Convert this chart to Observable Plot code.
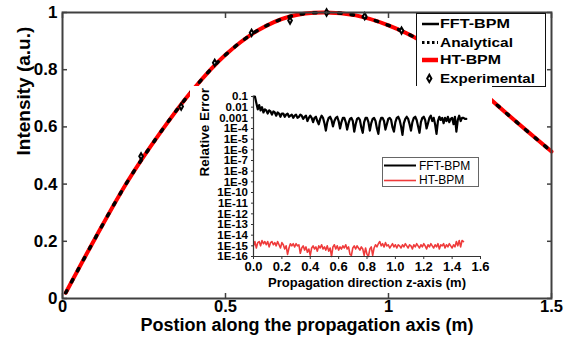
<!DOCTYPE html>
<html><head><meta charset="utf-8">
<script src="https://cdn.jsdelivr.net/npm/d3@7"></script>
<script src="https://cdn.jsdelivr.net/npm/@observablehq/plot@0.6"></script>
<style>
body{margin:0;background:#fff;}
#wrap{position:relative;width:564px;height:343px;overflow:hidden;font-family:"Liberation Sans",Arial,sans-serif;}
#main{position:absolute;left:0;top:0;}
#legend{position:absolute;left:416px;top:13px;width:130px;height:74px;}
#inset{position:absolute;left:190px;top:86px;width:302px;height:205px;background:#fff;}
#insetLegend{position:absolute;left:192px;top:71px;width:97px;height:30px;background:#fff;border:1px solid #666;box-sizing:border-box;}
#insetLegend .row{position:absolute;left:0;height:15px;display:flex;align-items:center;font-size:12px;color:#000;white-space:nowrap;}
</style>
</head><body>
<div id="wrap">
  <div id="main"></div>
  <div id="legend"></div>
  <div id="inset"><div id="insetPlot"></div><div id="insetLegend"></div></div>
</div>
<script>
// ---------- main chart data ----------
const posX      = [0.01, 0.1, 0.2, 0.3, 0.4, 0.5, 0.6, 0.7, 0.8, 0.9, 1.0, 1.1, 1.2, 1.3, 1.4, 1.5];
const intensity = [0.02, 0.21, 0.41, 0.58, 0.73, 0.852, 0.938, 0.987, 1.0, 0.99, 0.955, 0.9, 0.815, 0.71, 0.61, 0.514];
const expX = [0.241, 0.364, 0.467, 0.58, 0.698, 0.81, 0.927, 1.04];
const expY = [0.497, 0.671, 0.824, 0.929, 0.972, 1.0, 0.987, 0.937];
const xTicks = [0, 0.5, 1, 1.5];
const xTickLabels = ["0", "0.5", "1", "1.5"];
const yTicks = [0, 0.2, 0.4, 0.6, 0.8, 1];
const yTickLabels = ["0", "0.2", "0.4", "0.6", "0.8", "1"];
const mainSeries = ["FFT-BPM", "Analytical", "HT-BPM", "Experimental"];
const xTitle = "Postion along the propagation axis (m)";
const yTitle = "Intensity (a.u.)";

// ---------- inset data (log10 of relative error) ----------
const zStep = 0.01;
const fftLogErr = [
 -1.0,-1.0,-1.6,-2.2,-1.8,-2.3,-2.0,-2.5,-2.2,-2.3,
 -2.6,-2.3,-2.4,-2.7,-2.4,-2.5,-2.8,-2.5,-2.6,-2.9,
 -2.6,-2.6,-2.9,-2.7,-2.6,-2.9,-2.8,-2.7,-3.0,-2.8,
 -2.7,-3.0,-2.9,-2.7,-2.8,-3.1,-2.9,-2.8,-3.3,-3.0,
 -2.8,-3.0,-3.4,-3.0,-2.9,-3.3,-3.6,-3.1,-2.8,-3.0,
 -3.5,-4.2,-3.4,-3.0,-2.9,-3.2,-3.8,-3.3,-3.0,-2.9,
 -3.3,-4.0,-3.4,-3.0,-3.0,-3.4,-4.1,-3.5,-3.1,-3.0,
 -3.3,-4.3,-3.6,-3.1,-3.0,-3.2,-3.9,-4.4,-3.4,-3.0,
 -3.0,-3.4,-4.2,-3.5,-3.1,-3.0,-3.3,-4.0,-4.5,-3.4,
 -3.0,-3.0,-3.3,-4.1,-3.6,-3.1,-3.0,-3.2,-3.9,-4.3,
 -3.4,-3.0,-2.9,-3.2,-3.8,-4.6,-3.5,-3.1,-2.9,-3.1,
 -3.6,-4.2,-3.4,-3.0,-2.9,-3.2,-3.8,-4.4,-3.4,-3.0,
 -2.9,-3.2,-4.0,-3.5,-3.0,-2.8,-3.3,-3.0,-3.6,-4.5,
 -3.3,-2.9,-3.2,-3.0,-3.5,-3.0,-3.3,-2.9,-3.4,-3.1,
 -3.0,-3.6,-2.9,-4.3,-3.2,-2.8,-3.3,-3.0,-3.0,-3.1,
 -3.1
];
const htLogErr = [
 -15.0,-14.6,-15.2,-14.7,-14.6,-15.0,-14.5,-14.8,-14.6,-14.9,
 -14.6,-15.1,-14.7,-14.6,-14.9,-14.7,-15.0,-14.6,-14.9,-15.2,
 -14.7,-14.9,-15.3,-15.0,-15.8,-15.2,-14.8,-15.0,-14.8,-15.1,
 -14.8,-15.0,-14.9,-15.7,-15.2,-15.0,-15.4,-15.1,-15.6,-15.3,
 -15.9,-15.2,-15.0,-15.3,-15.1,-15.5,-15.0,-15.2,-14.9,-15.3,
 -15.1,-15.4,-15.0,-15.5,-15.2,-16.0,-15.1,-14.9,-15.3,-15.0,
 -15.4,-15.1,-15.3,-15.0,-15.2,-14.9,-15.3,-15.1,-15.8,-15.9,
 -15.2,-15.0,-15.3,-15.0,-15.2,-15.4,-15.1,-15.3,-15.9,-15.2,
 -15.8,-16.0,-15.3,-15.1,-15.9,-15.2,-14.9,-15.1,-14.8,-14.6,
 -15.0,-14.8,-15.1,-14.7,-15.0,-14.9,-15.2,-15.0,-14.8,-15.1,
 -14.9,-15.2,-14.9,-15.0,-15.2,-14.9,-15.1,-14.8,-15.0,-15.2,
 -14.9,-15.0,-15.3,-14.9,-15.1,-14.8,-15.0,-15.2,-14.9,-15.1,
 -14.8,-15.0,-15.3,-14.9,-15.1,-14.8,-15.0,-15.2,-14.9,-15.1,
 -14.8,-15.3,-14.9,-15.0,-14.8,-15.2,-14.9,-15.1,-14.8,-15.0,
 -15.2,-14.9,-15.1,-14.6,-15.0,-14.5,-15.1,-14.5,-14.6
];
const errTicks = [1e-1,1e-2,1e-3,1e-4,1e-5,1e-6,1e-7,1e-8,1e-9,1e-10,1e-11,1e-12,1e-13,1e-14,1e-15,1e-16];
const errTickLabels = ["0.1","0.01","0.001","1E-4","1E-5","1E-6","1E-7","1E-8","1E-9","1E-10","1E-11","1E-12","1E-13","1E-14","1E-15","1E-16"];
const zTicks = [0, 0.2, 0.4, 0.6, 0.8, 1.0, 1.2, 1.4, 1.6];
const zTickLabels = ["0.0","0.2","0.4","0.6","0.8","1.0","1.2","1.4","1.6"];
const insetSeries = ["FFT-BPM", "HT-BPM"];
const insetXTitle = "Propagation direction z-axis (m)";
const insetYTitle = "Relative Error";

// ---------- build ----------
const FONT = "Liberation Sans, Arial, sans-serif";
const curve = posX.map((x, i) => ({x, y: intensity[i]}));
const exp = expX.map((x, i) => ({x, y: expY[i]}));
const AX = "#404040";

const main = Plot.plot({
  width: 564, height: 343,
  marginLeft: 62, marginRight: 13, marginTop: 12, marginBottom: 45,
  x: {domain: [0, 1.5]},
  y: {domain: [0, 1]},
  style: {fontFamily: FONT, background: "transparent", color: "#000", overflow: "visible"},
  marks: [
    Plot.line(curve, {x: "x", y: "y", stroke: "#000", strokeWidth: 2.5, curve: "catmull-rom"}),
    Plot.line(curve, {x: "x", y: "y", stroke: "#ff0000", strokeWidth: 4, curve: "catmull-rom"}),
    Plot.line(curve, {x: "x", y: "y", stroke: "#000", strokeWidth: 3.5, strokeDasharray: "2.5,10", curve: "catmull-rom"}),
    Plot.dot(exp, {x: "x", y: "y", symbol: "diamond", r: 1.9, fill: "#fff", stroke: "#000", strokeWidth: 2}),
    Plot.frame({stroke: AX, strokeWidth: 2}),
    Plot.axisX(xTicks, {anchor: "bottom", tickSize: 0, tickPadding: 1.5, tickFormat: d => xTickLabels[xTicks.indexOf(d)], fontSize: 16.5, fontWeight: "bold", label: null}),
    Plot.axisX(xTicks, {anchor: "bottom", tickSize: 5, dy: -5, stroke: AX, strokeWidth: 1.5, tickFormat: () => "", label: null}),
    Plot.axisX(xTicks, {anchor: "top", tickSize: 5, dy: 5, stroke: AX, strokeWidth: 1.5, tickFormat: () => "", label: null}),
    Plot.axisY(yTicks, {anchor: "left", tickSize: 0, tickPadding: 5, tickFormat: d => yTickLabels[yTicks.indexOf(d)], fontSize: 17, fontWeight: "bold", label: null}),
    Plot.axisY(yTicks, {anchor: "left", tickSize: 5, dx: 5, stroke: AX, strokeWidth: 1.5, tickFormat: () => "", label: null}),
    Plot.axisY(yTicks, {anchor: "right", tickSize: 5, dx: -5, stroke: AX, strokeWidth: 1.5, tickFormat: () => "", label: null}),
    Plot.text([xTitle], {text: d => d, frameAnchor: "bottom", dy: 32, fontSize: 18, fontWeight: "bold"}),
    Plot.text([yTitle], {text: d => d, frameAnchor: "left", rotate: -90, dx: -39, fontSize: 19, fontWeight: "bold"})
  ]
});
document.getElementById("main").appendChild(main);

// main legend (svg; text stretched to the reference's wide lettering)
const legendWidths = [70, 73, 61, 95];
const NS = "http://www.w3.org/2000/svg";
const lsvg = document.createElementNS(NS, "svg");
lsvg.setAttribute("width", 130); lsvg.setAttribute("height", 74);
lsvg.style.display = "block";
let inner = '<rect x="0.5" y="0.5" width="129" height="73" fill="#fff" stroke="#111" stroke-width="1"/>';
mainSeries.forEach((name, i) => {
  const base = [15.3, 33.7, 51.3, 69.7][i];
  const cy = base - 4.3;
  if (name === "FFT-BPM") inner += `<line x1="6" y1="${cy}" x2="23" y2="${cy}" stroke="#000" stroke-width="2.5"/>`;
  else if (name === "Analytical") inner += `<line x1="6" y1="${cy}" x2="22" y2="${cy}" stroke="#000" stroke-width="3" stroke-dasharray="2.5,2.5"/>`;
  else if (name === "HT-BPM") inner += `<line x1="6" y1="${cy}" x2="22" y2="${cy}" stroke="#ff0000" stroke-width="4.5"/>`;
  else inner += `<path d="M13.3,${cy-3.6}L15.4,${cy}L13.3,${cy+3.6}L11.2,${cy}Z" fill="#fff" stroke="#000" stroke-width="2"/>`;
  inner += `<text x="24" y="${base}" font-family="${FONT}" font-size="12.5" font-weight="bold" textLength="${legendWidths[i]}" lengthAdjust="spacingAndGlyphs">${name}</text>`;
});
lsvg.innerHTML = inner;
document.getElementById("legend").appendChild(lsvg);

// inset
const fftData = fftLogErr.map((e, i) => ({z: +(i * zStep).toFixed(2), err: Math.pow(10, e)}));
const htData = htLogErr.map((e, i) => ({z: +(i * zStep).toFixed(2), err: Math.pow(10, e)}));
const inset = Plot.plot({
  width: 302, height: 205,
  marginLeft: 63, marginRight: 12, marginTop: 10, marginBottom: 35,
  x: {domain: [0, 1.6]},
  y: {type: "log", domain: [1e-16, 0.1]},
  style: {fontFamily: FONT, background: "transparent", color: "#000", overflow: "visible"},
  marks: [
    Plot.line(htData, {x: "z", y: "err", stroke: "#ef3b3b", strokeWidth: 1.6}),
    Plot.line(fftData, {x: "z", y: "err", stroke: "#000", strokeWidth: 2.2}),
    Plot.ruleX([0], {stroke: "#333", strokeWidth: 1.2}),
    Plot.ruleY([1e-16], {stroke: "#333", strokeWidth: 1.2}),
    Plot.axisX(zTicks, {anchor: "bottom", tickSize: 3, tickPadding: 2.5, stroke: "#333", tickFormat: d => zTickLabels[zTicks.indexOf(d)], fontSize: 13, fontWeight: "bold", label: null}),
    Plot.axisY(errTicks, {anchor: "left", tickSize: 2, tickPadding: 3.5, stroke: "#333", tickFormat: d => errTickLabels[errTicks.indexOf(d)], fontSize: 11.5, fontWeight: "bold", label: null}),
    Plot.text([insetXTitle], {text: d => d, frameAnchor: "bottom", dy: 30.5, fontSize: 13, fontWeight: "bold"}),
    Plot.text([insetYTitle], {text: d => d, frameAnchor: "left", rotate: -90, dx: -49, fontSize: 13.5, fontWeight: "bold"})
  ]
});
document.getElementById("insetPlot").appendChild(inset);

const il = document.getElementById("insetLegend");
insetSeries.forEach((name, i) => {
  const row = document.createElement("div");
  row.className = "row";
  row.style.top = (0 + i * 14.5) + "px";
  const color = name === "FFT-BPM" ? "#000" : "#ef3b3b";
  row.innerHTML = '<svg width="36" height="15" style="display:block"><line x1="1" y1="7.5" x2="33" y2="7.5" stroke="' + color + '" stroke-width="' + (name === "FFT-BPM" ? 2 : 1.6) + '"/></svg><span>' + name + '</span>';
  il.appendChild(row);
});
</script>
</body></html>
